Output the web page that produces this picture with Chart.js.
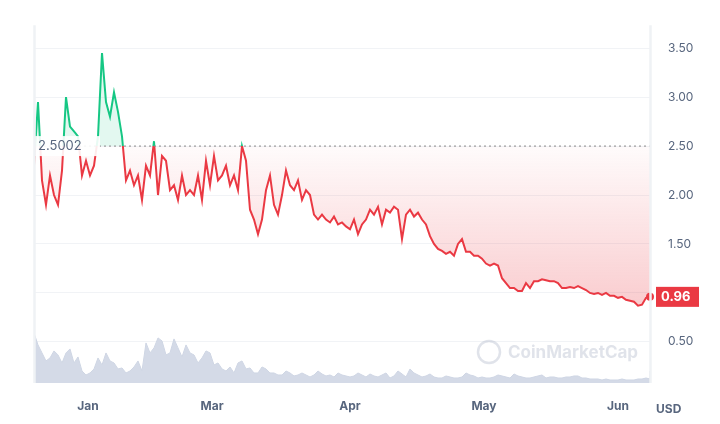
<!DOCTYPE html>
<html>
<head>
<meta charset="UTF-8">
<script src="https://cdn.jsdelivr.net/npm/chart.js"></script>
<style>
  body { margin: 0; background: #fff; }
  #wrap { width: 720px; height: 424px; }
</style>
</head>
<body>
<div id="wrap"><canvas id="c"></canvas></div>
<script>
// price sampled every 4px along the time axis
const priceStep = 4;
const prices = [2.3,2.95,2.15,1.9,2.2,2.0,1.9,2.25,3.0,2.7,2.65,2.6,2.2,2.35,2.2,2.3,2.6,3.45,2.95,2.8,
  3.05,2.85,2.6,2.15,2.25,2.1,2.2,1.95,2.3,2.2,2.55,2.0,2.4,2.35,2.05,2.1,1.95,2.2,2.0,2.05,
  2.0,2.2,1.95,2.35,2.1,2.4,2.15,2.2,2.3,2.1,2.2,2.05,2.5,2.35,1.85,1.75,1.6,1.75,2.05,2.2,
  1.9,1.8,2.0,2.25,2.1,2.05,2.15,1.95,2.05,2.0,1.8,1.75,1.8,1.75,1.72,1.78,1.7,1.72,1.68,1.65,
  1.75,1.6,1.7,1.75,1.85,1.8,1.88,1.7,1.85,1.82,1.88,1.85,1.55,1.8,1.85,1.78,1.82,1.75,1.7,1.58,
  1.5,1.45,1.43,1.4,1.42,1.38,1.5,1.55,1.42,1.42,1.38,1.38,1.35,1.3,1.28,1.3,1.28,1.15,1.1,1.05,
  1.05,1.02,1.02,1.1,1.05,1.12,1.12,1.14,1.13,1.12,1.12,1.1,1.05,1.05,1.06,1.05,1.07,1.05,1.03,1.0,
  0.99,1.0,0.98,1.0,0.97,0.97,0.95,0.96,0.93,0.92,0.91,0.87,0.88,0.95,0.96];
// volume sampled every 4px
const volStep = 4;
const volumes = [50,38,30,22,25,32,28,20,30,34,20,26,12,8,10,14,25,18,30,22,20,14,15,10,12,16,22,12,40,30,
  35,45,42,28,30,44,35,26,38,30,28,20,25,32,30,18,20,14,12,16,10,20,22,14,15,10,10,16,14,10,
  10,8,8,12,10,7,8,10,8,6,8,12,9,7,8,6,10,8,7,6,7,10,8,6,9,7,6,8,10,5,
  7,12,9,6,14,10,8,6,7,9,6,5,5,7,6,5,5,6,10,8,7,5,6,5,5,6,8,7,6,5,
  9,7,6,5,5,6,7,8,5,6,6,5,5,6,6,7,7,5,5,4,4,4,3,4,3,3,3,4,3,3,
  3,4,4,5,4,12];
const monthLabels = ['Jan','Mar','Apr','May','Jun'];
const monthPos = [54,178,316,450,584];
const yTicks = [0.5,1.0,1.5,2.0,2.5,3.0,3.5];
const baseline = 2.5002;
const lastPrice = 0.96;

const priceData = prices.map((v, i) => ({x: i * priceStep, y: v}));
const volData = volumes.map((v, i) => ({x: Math.min(i * volStep, 616), y: v}));

function lineColor(ctx) {
  const chart = ctx.chart;
  const area = chart.chartArea;
  if (!area) return '#ea3943';
  const yb = chart.scales.y.getPixelForValue(baseline);
  const t = Math.min(Math.max((yb - area.top) / (area.bottom - area.top), 0), 1);
  const g = chart.ctx.createLinearGradient(0, area.top, 0, area.bottom);
  g.addColorStop(0, '#16c784');
  g.addColorStop(t, '#16c784');
  g.addColorStop(t, '#ea3943');
  g.addColorStop(1, '#ea3943');
  return g;
}
function belowFill(ctx) {
  const chart = ctx.chart;
  const area = chart.chartArea;
  if (!area) return 'rgba(234,57,67,0.1)';
  const yb = chart.scales.y.getPixelForValue(baseline);
  const g = chart.ctx.createLinearGradient(0, yb, 0, chart.scales.y.getPixelForValue(0.9));
  g.addColorStop(0, 'rgba(234,57,67,0.02)');
  g.addColorStop(1, 'rgba(234,57,67,0.25)');
  return g;
}

const overlay = {
  id: 'overlay',
  afterDatasetsDraw(chart) {
    const c = chart.ctx, a = chart.chartArea, ys = chart.scales.y;
    const yb = ys.getPixelForValue(baseline);
    c.save();
    c.setLineDash([2, 3]);
    c.strokeStyle = '#888';
    c.lineWidth = 1;
    c.beginPath(); c.moveTo(a.left, yb); c.lineTo(a.right, yb); c.stroke();
    c.setLineDash([]);
    // baseline label
    c.fillStyle = 'rgba(255,255,255,0.9)';
    c.fillRect(a.left, yb - 10, 66, 20);
    c.fillStyle = '#58667e';
    c.font = '13px "Inter", sans-serif';
    c.textBaseline = 'middle';
    c.fillText(baseline.toFixed(4), a.left + 4, yb);
    // last price marker + label
    const yl = ys.getPixelForValue(lastPrice);
    c.fillStyle = '#ea3943';
    c.beginPath(); c.arc(a.right, yl, 4, 0, Math.PI * 2); c.fill();
    c.fillRect(a.right + 6, yl - 10, 43, 20);
    c.fillStyle = '#fff';
    c.font = 'bold 13px "Inter", sans-serif';
    c.fillText(lastPrice.toFixed(2), a.right + 11, yl);
    // watermark
    c.globalAlpha = 0.35;
    c.strokeStyle = '#a6b0c3';
    c.lineWidth = 2.5;
    c.beginPath(); c.arc(489, 352, 11, 0, Math.PI * 2); c.stroke();
    c.fillStyle = '#a6b0c3';
    c.font = 'bold 17px "Inter", sans-serif';
    c.fillText('CoinMarketCap', 508, 353);
    c.globalAlpha = 1;
    // border lines
    c.strokeStyle = '#eff2f5';
    c.beginPath(); c.moveTo(a.left + 0.5, a.top); c.lineTo(a.left + 0.5, a.bottom);
    c.moveTo(a.right + 0.5, a.top); c.lineTo(a.right + 0.5, a.bottom); c.stroke();
    // USD
    c.fillStyle = '#58667e';
    c.font = 'bold 12px "Inter", sans-serif';
    c.fillText('USD', 656, 409);
    c.restore();
  }
};

new Chart(document.getElementById('c'), {
  type: 'line',
  data: {
    datasets: [{
      data: priceData,
      yAxisID: 'y',
      borderColor: lineColor,
      borderWidth: 2,
      pointRadius: 0,
      tension: 0,
      fill: {target: {value: baseline}, above: 'rgba(22,199,132,0.12)', below: belowFill}
    }, {
      data: volData,
      yAxisID: 'yv',
      borderColor: 'rgba(207,214,228,1)',
      backgroundColor: 'rgba(207,214,228,0.9)',
      borderWidth: 1,
      pointRadius: 0,
      fill: 'origin'
    }]
  },
  options: {
    responsive: true,
    maintainAspectRatio: false,
    animation: false,
    layout: {padding: {left: 34, top: 10}},
    plugins: {legend: {display: false}, tooltip: {enabled: false}},
    scales: {
      x: {
        type: 'linear', min: 0, max: 616,
        afterBuildTicks: s => { s.ticks = monthPos.map(v => ({value: v})); },
        afterFit: s => { s.height = 41; },
        ticks: {
          callback: (v) => monthLabels[monthPos.indexOf(v)],
          color: '#58667e', font: {size: 12, weight: 'bold', family: 'Inter'}, padding: 8, maxRotation: 0
        },
        grid: {display: false},
        border: {display: false}
      },
      y: {
        position: 'right', min: 0.08, max: 3.735,
        afterBuildTicks: s => { s.ticks = yTicks.map(v => ({value: v})); },
        afterFit: s => { s.width = 70; },
        ticks: {callback: v => v.toFixed(2), color: '#58667e', font: {size: 12, family: 'Inter'}, padding: 18},
        grid: {color: '#f1f3f6', drawTicks: false},
        border: {display: false}
      },
      yv: {display: false, min: 0, max: 357}
    }
  },
  plugins: [overlay]
});
</script>
</body>
</html>
